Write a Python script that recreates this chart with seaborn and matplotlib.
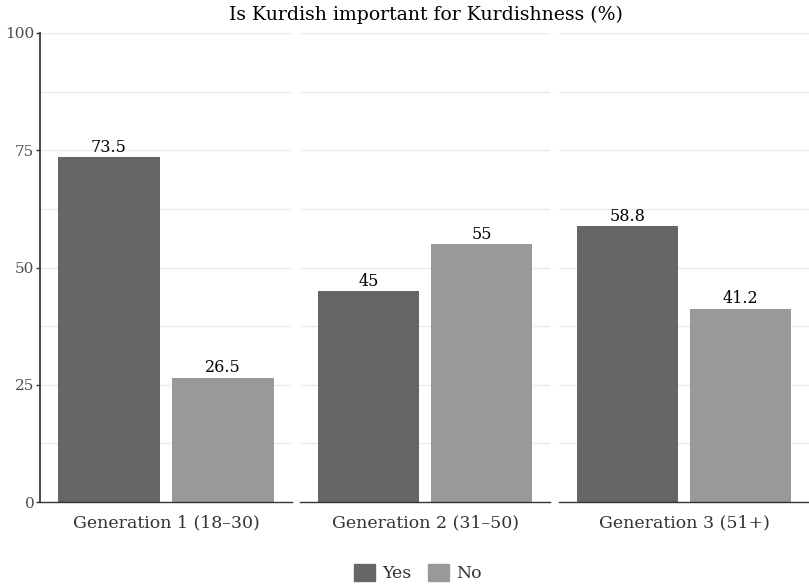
import matplotlib
matplotlib.use("Agg")
import matplotlib.pyplot as plt
import seaborn as sns
import pandas as pd
from matplotlib.patches import Patch

generations = ["Generation 1 (18–30)", "Generation 2 (31–50)", "Generation 3 (51+)"]
answers = ["Yes", "No"]
yes_values = [73.5, 45, 58.8]
no_values = [26.5, 55, 41.2]
label_yes = ["73.5", "45", "58.8"]
label_no = ["26.5", "55", "41.2"]
title = "Is Kurdish important for Kurdishness (%)"

sns.set_theme(style="white")
plt.rcParams['font.family'] = ['DejaVu Serif']

rows = []
for g, y, n in zip(generations, yes_values, no_values):
    rows.append({"gen": g, "answer": "Yes", "value": y})
    rows.append({"gen": g, "answer": "No", "value": n})
df = pd.DataFrame(rows)
palette = {"Yes": "#666666", "No": "#999999"}

W, H = 809, 585
fig = plt.figure(figsize=(W/100, H/100), dpi=100)
panels = [(40, 292), (300, 550), (559, 809)]
top, bottom = 33, 502
grid_c = "#ebebeb"
for i, (g, (x0, x1)) in enumerate(zip(generations, panels)):
    ax = fig.add_axes([x0/W, 1-bottom/H, (x1-x0)/W, (bottom-top)/H])
    sub = df[df.gen == g]
    sns.barplot(data=sub, x="gen", y="value", hue="answer", hue_order=answers,
                palette=palette, width=0.905, gap=0.1, ax=ax, legend=False,
                saturation=1, edgecolor="none")
    ax.set_ylim(0, 100)
    ax.set_xlim(-0.5, 0.5)
    for yv in [12.5, 25, 37.5, 50, 62.5, 75, 87.5, 100]:
        ax.axhline(yv, color=grid_c, lw=1, zorder=0)
    for c, labs in zip(ax.containers, [label_yes[i:i+1], label_no[i:i+1]]):
        ax.bar_label(c, labels=labs, padding=1, fontsize=11.5, color="black")
    ax.set_xlabel("")
    ax.set_ylabel("")
    for s in ["top", "right", "left"]:
        ax.spines[s].set_visible(False)
    ax.spines["bottom"].set_color("#333333")
    ax.spines["bottom"].set_linewidth(1)
    ax.tick_params(axis="x", length=0, pad=9, labelsize=12.5, labelcolor="#333333")
    if i == 0:
        ax.spines["left"].set_visible(True)
        ax.spines["left"].set_color("#333333")
        ax.set_yticks([0, 25, 50, 75, 100])
        ax.tick_params(axis="y", length=3, width=1, color="#333333", labelsize=11,
                       labelcolor="#4d4d4d", pad=1, left=True)
    else:
        ax.set_yticks([])

fig.text(426/W, 1-15/H, title, ha="center", va="center", fontsize=13.6, color="black")
handles = [Patch(color=palette[a], label=a) for a in answers]
fig.legend(handles=handles, loc="center", bbox_to_anchor=(418/W, 1-573/H), ncol=2,
           frameon=False, fontsize=12.5, handlelength=1.2, handleheight=1.2,
           handletextpad=0.4, columnspacing=1.0, labelcolor="#333333")
fig.savefig("out.png", dpi=100)
